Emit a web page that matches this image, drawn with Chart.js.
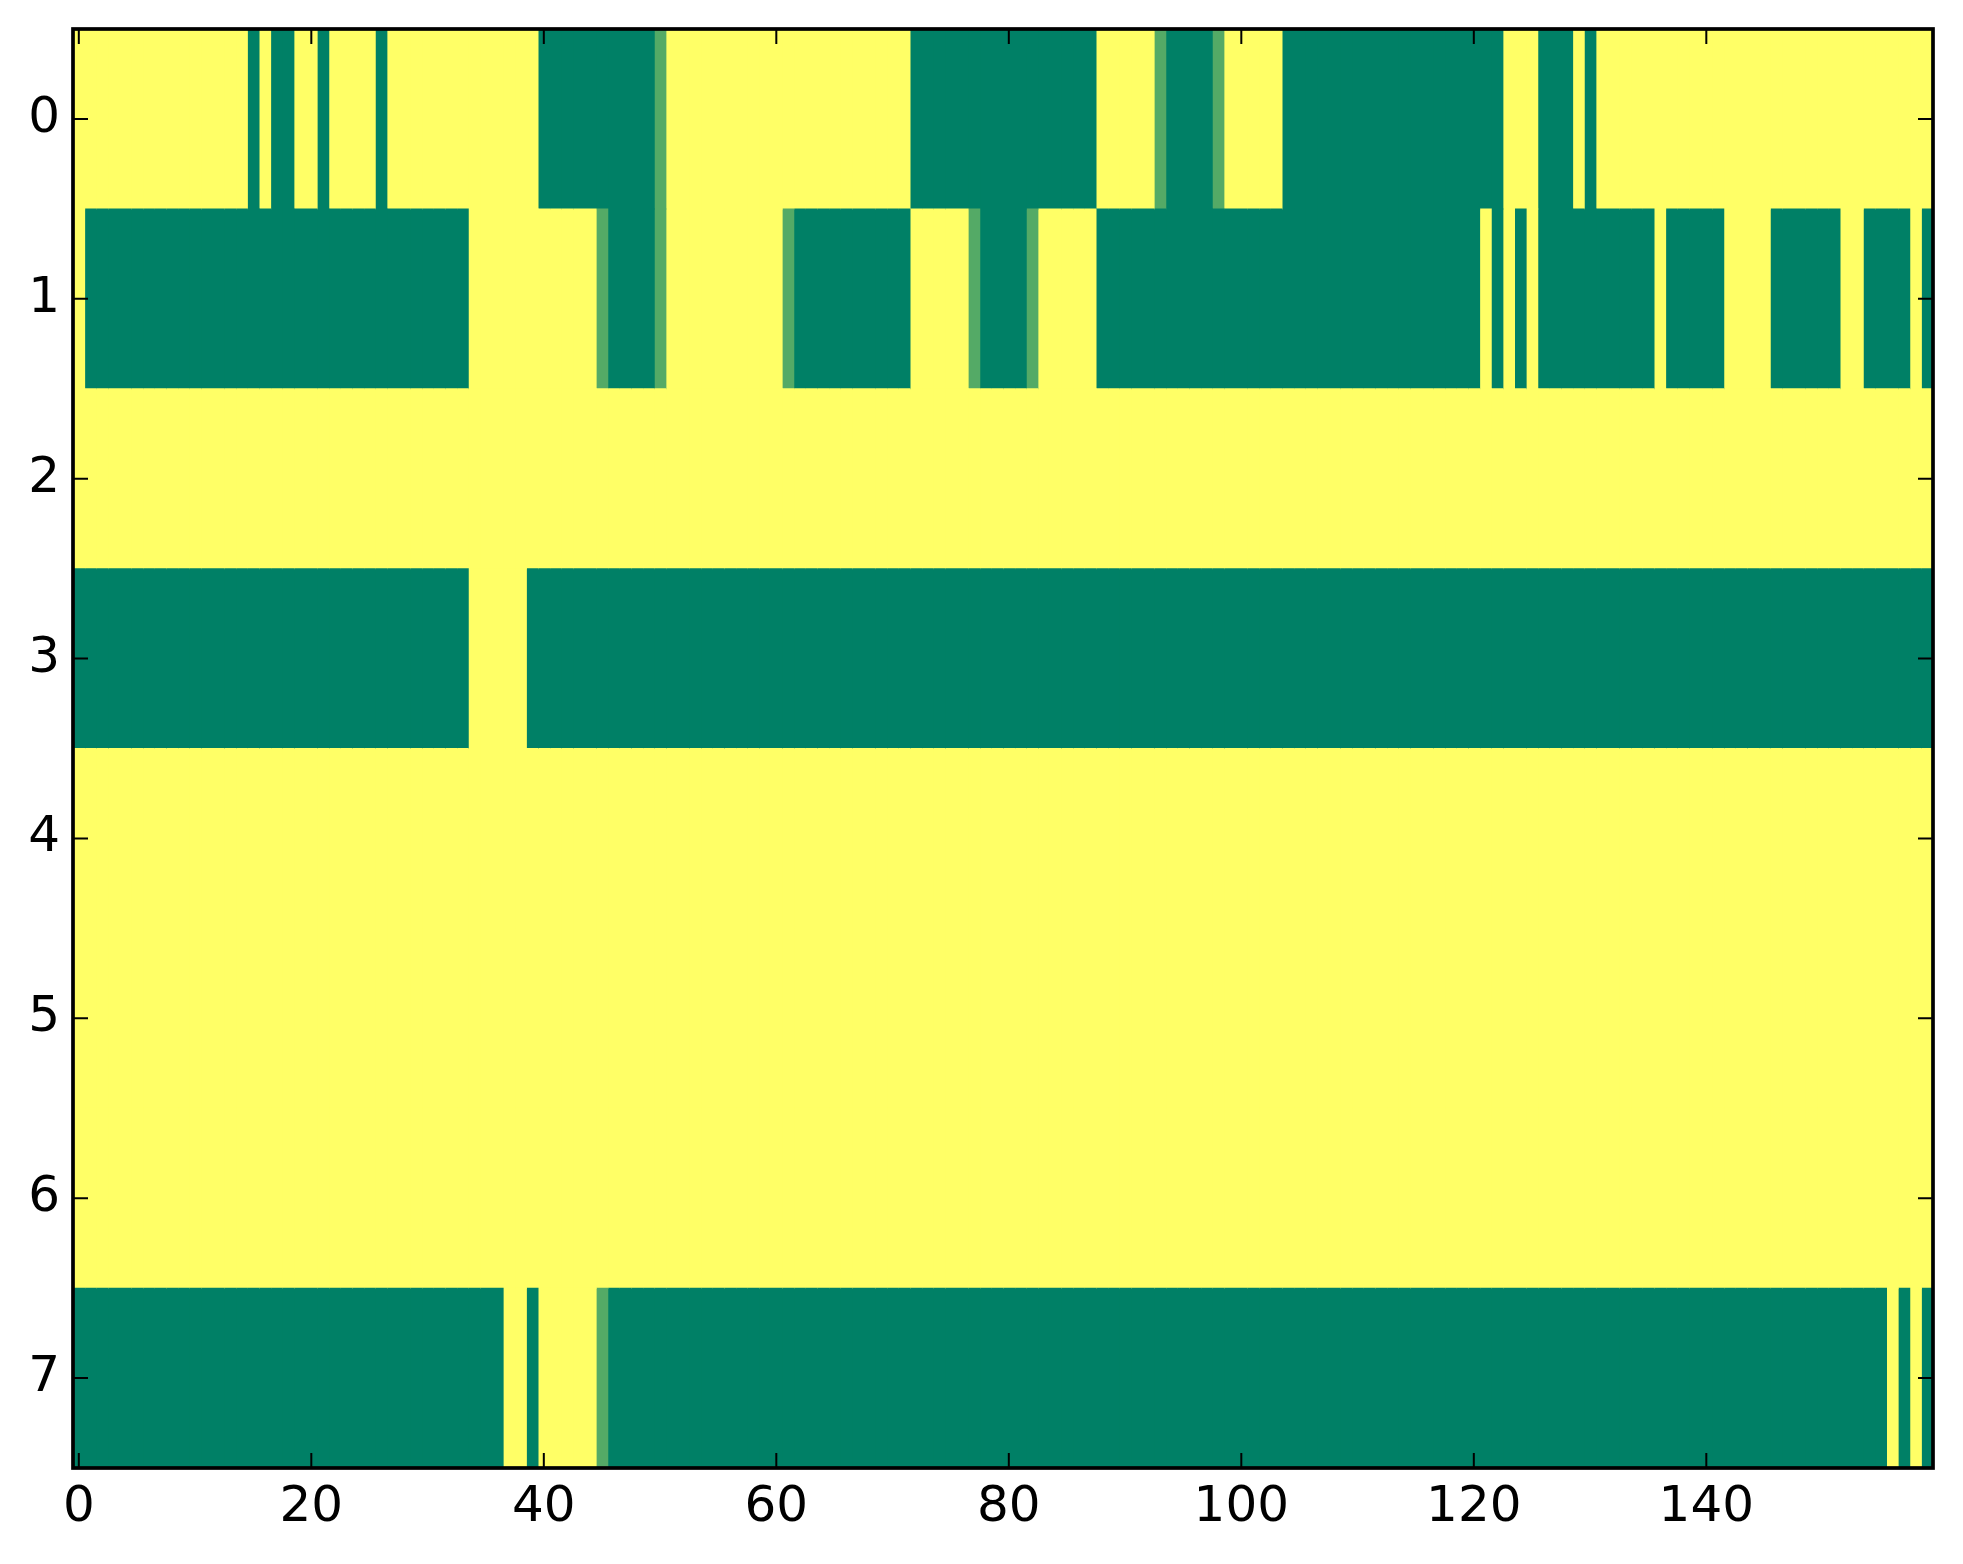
<!DOCTYPE html>
<html>
<head>
<meta charset="utf-8">
<script src="https://cdn.jsdelivr.net/npm/chart.js@4.4.1/dist/chart.umd.min.js"></script>
<style>
  html, body { margin: 0; padding: 0; background: #ffffff; }
  canvas { display: block; }
</style>
</head>
<body>
<canvas id="c" width="1963" height="1564"></canvas>
<script>
// Row labels (top to bottom) and x tick labels
const yLabels = ['0', '1', '2', '3', '4', '5', '6', '7'];
const xTickValues = [0, 20, 40, 60, 80, 100, 120, 140];

// Cell values per row, 160 columns each (1 = yellow, 0 = green, 0.33 = intermediate)
const row0 = [
  1,1,1,1,1,1,1,1,1,1,  1,1,1,1,1,0,1,0,0,1,  1,0,1,1,1,1,0,1,1,1,  1,1,1,1,1,1,1,1,1,1,
  0,0,0,0,0,0,0,0,0,0,  0.33,1,1,1,1,1,1,1,1,1,  1,1,1,1,1,1,1,1,1,1,  1,1,0,0,0,0,0,0,0,0,
  0,0,0,0,0,0,0,0,1,1,  1,1,1,0.33,0,0,0,0,0.33,1,  1,1,1,1,0,0,0,0,0,0,  0,0,0,0,0,0,0,0,0,0,
  0,0,0,1,1,1,0,0,0,1,  0,1,1,1,1,1,1,1,1,1,  1,1,1,1,1,1,1,1,1,1,  1,1,1,1,1,1,1,1,1,1
];
const row1 = [
  1,0,0,0,0,0,0,0,0,0,  0,0,0,0,0,0,0,0,0,0,  0,0,0,0,0,0,0,0,0,0,  0,0,0,0,1,1,1,1,1,1,
  1,1,1,1,1,0.33,0,0,0,0,  0.33,1,1,1,1,1,1,1,1,1,  1,0.33,0,0,0,0,0,0,0,0,  0,0,1,1,1,1,1,0.33,0,0,
  0,0,0.33,1,1,1,1,1,0,0,  0,0,0,0,0,0,0,0,0,0,  0,0,0,0,0,0,0,0,0,0,  0,0,0,0,0,0,0,0,0,0,
  0,1,0,1,0,1,0,0,0,0,  0,0,0,0,0,0,1,0,0,0,  0,0,1,1,1,1,0,0,0,0,  0,0,1,1,0,0,0,0,1,0
];
const row2 = [
  1,1,1,1,1,1,1,1,1,1,  1,1,1,1,1,1,1,1,1,1,  1,1,1,1,1,1,1,1,1,1,  1,1,1,1,1,1,1,1,1,1,
  1,1,1,1,1,1,1,1,1,1,  1,1,1,1,1,1,1,1,1,1,  1,1,1,1,1,1,1,1,1,1,  1,1,1,1,1,1,1,1,1,1,
  1,1,1,1,1,1,1,1,1,1,  1,1,1,1,1,1,1,1,1,1,  1,1,1,1,1,1,1,1,1,1,  1,1,1,1,1,1,1,1,1,1,
  1,1,1,1,1,1,1,1,1,1,  1,1,1,1,1,1,1,1,1,1,  1,1,1,1,1,1,1,1,1,1,  1,1,1,1,1,1,1,1,1,1
];
const row3 = [
  0,0,0,0,0,0,0,0,0,0,  0,0,0,0,0,0,0,0,0,0,  0,0,0,0,0,0,0,0,0,0,  0,0,0,0,1,1,1,1,1,0,
  0,0,0,0,0,0,0,0,0,0,  0,0,0,0,0,0,0,0,0,0,  0,0,0,0,0,0,0,0,0,0,  0,0,0,0,0,0,0,0,0,0,
  0,0,0,0,0,0,0,0,0,0,  0,0,0,0,0,0,0,0,0,0,  0,0,0,0,0,0,0,0,0,0,  0,0,0,0,0,0,0,0,0,0,
  0,0,0,0,0,0,0,0,0,0,  0,0,0,0,0,0,0,0,0,0,  0,0,0,0,0,0,0,0,0,0,  0,0,0,0,0,0,0,0,0,0
];
const row4 = [
  1,1,1,1,1,1,1,1,1,1,  1,1,1,1,1,1,1,1,1,1,  1,1,1,1,1,1,1,1,1,1,  1,1,1,1,1,1,1,1,1,1,
  1,1,1,1,1,1,1,1,1,1,  1,1,1,1,1,1,1,1,1,1,  1,1,1,1,1,1,1,1,1,1,  1,1,1,1,1,1,1,1,1,1,
  1,1,1,1,1,1,1,1,1,1,  1,1,1,1,1,1,1,1,1,1,  1,1,1,1,1,1,1,1,1,1,  1,1,1,1,1,1,1,1,1,1,
  1,1,1,1,1,1,1,1,1,1,  1,1,1,1,1,1,1,1,1,1,  1,1,1,1,1,1,1,1,1,1,  1,1,1,1,1,1,1,1,1,1
];
const row5 = [
  1,1,1,1,1,1,1,1,1,1,  1,1,1,1,1,1,1,1,1,1,  1,1,1,1,1,1,1,1,1,1,  1,1,1,1,1,1,1,1,1,1,
  1,1,1,1,1,1,1,1,1,1,  1,1,1,1,1,1,1,1,1,1,  1,1,1,1,1,1,1,1,1,1,  1,1,1,1,1,1,1,1,1,1,
  1,1,1,1,1,1,1,1,1,1,  1,1,1,1,1,1,1,1,1,1,  1,1,1,1,1,1,1,1,1,1,  1,1,1,1,1,1,1,1,1,1,
  1,1,1,1,1,1,1,1,1,1,  1,1,1,1,1,1,1,1,1,1,  1,1,1,1,1,1,1,1,1,1,  1,1,1,1,1,1,1,1,1,1
];
const row6 = [
  1,1,1,1,1,1,1,1,1,1,  1,1,1,1,1,1,1,1,1,1,  1,1,1,1,1,1,1,1,1,1,  1,1,1,1,1,1,1,1,1,1,
  1,1,1,1,1,1,1,1,1,1,  1,1,1,1,1,1,1,1,1,1,  1,1,1,1,1,1,1,1,1,1,  1,1,1,1,1,1,1,1,1,1,
  1,1,1,1,1,1,1,1,1,1,  1,1,1,1,1,1,1,1,1,1,  1,1,1,1,1,1,1,1,1,1,  1,1,1,1,1,1,1,1,1,1,
  1,1,1,1,1,1,1,1,1,1,  1,1,1,1,1,1,1,1,1,1,  1,1,1,1,1,1,1,1,1,1,  1,1,1,1,1,1,1,1,1,1
];
const row7 = [
  0,0,0,0,0,0,0,0,0,0,  0,0,0,0,0,0,0,0,0,0,  0,0,0,0,0,0,0,0,0,0,  0,0,0,0,0,0,0,1,1,0,
  1,1,1,1,1,0.33,0,0,0,0,  0,0,0,0,0,0,0,0,0,0,  0,0,0,0,0,0,0,0,0,0,  0,0,0,0,0,0,0,0,0,0,
  0,0,0,0,0,0,0,0,0,0,  0,0,0,0,0,0,0,0,0,0,  0,0,0,0,0,0,0,0,0,0,  0,0,0,0,0,0,0,0,0,0,
  0,0,0,0,0,0,0,0,0,0,  0,0,0,0,0,0,0,0,0,0,  0,0,0,0,0,0,0,0,0,0,  0,0,0,0,0,0,1,0,1,0
];
const rows = [row0, row1, row2, row3, row4, row5, row6, row7];

// matplotlib "summer" colormap
function summer(v) {
  const r = Math.round(255 * v);
  const g = Math.round(255 * (0.5 + 0.5 * v));
  const b = 102;
  return 'rgb(' + r + ',' + g + ',' + b + ')';
}

const nCols = row0.length;
const datasets = [];
for (let c = 0; c < nCols; c++) {
  datasets.push({
    data: rows.map(() => [c - 0.5, c + 0.5]),
    backgroundColor: rows.map(row => summer(row[c])),
  });
}

const font = { family: 'DejaVu Sans', size: 50 };

const frameTicks = {
  id: 'frameTicks',
  afterDraw(chart) {
    const ctx = chart.ctx;
    const a = chart.chartArea;
    const xs = chart.scales.x, ys = chart.scales.y;
    const L = 15;
    ctx.save();
    ctx.strokeStyle = '#000';
    ctx.lineWidth = 2;
    ctx.beginPath();
    xTickValues.forEach(v => {
      const px = xs.getPixelForValue(v);
      ctx.moveTo(px, a.bottom); ctx.lineTo(px, a.bottom - L);
      ctx.moveTo(px, a.top); ctx.lineTo(px, a.top + L);
    });
    yLabels.forEach((lab, i) => {
      const py = ys.getPixelForValue(i);
      ctx.moveTo(a.left, py); ctx.lineTo(a.left + L, py);
      ctx.moveTo(a.right, py); ctx.lineTo(a.right - L, py);
    });
    ctx.stroke();
    ctx.lineWidth = 3.7;
    ctx.strokeRect(a.left, a.top, a.right - a.left, a.bottom - a.top);
    ctx.restore();
  }
};

new Chart(document.getElementById('c'), {
  type: 'bar',
  data: { labels: yLabels, datasets: datasets },
  plugins: [frameTicks],
  options: {
    indexAxis: 'y',
    responsive: false,
    animation: false,
    devicePixelRatio: 1,
    layout: { padding: { top: 29, right: 30, bottom: 0, left: 0 } },
    datasets: {
      bar: {
        grouped: false,
        barPercentage: 1,
        categoryPercentage: 1,
        borderWidth: 0,
        inflateAmount: 0.5
      }
    },
    plugins: { legend: { display: false }, tooltip: { enabled: false } },
    scales: {
      x: {
        type: 'linear',
        min: -0.5,
        max: 159.5,
        afterBuildTicks: s => { s.ticks = xTickValues.map(v => ({ value: v })); },
        afterFit: s => { s.height = 96; s.paddingLeft = 0; s.paddingRight = 0; },
        ticks: {
          font: font, color: '#000', padding: 10,
          autoSkip: false, maxRotation: 0,
          callback: v => String(v)
        },
        grid: { display: false, drawTicks: false },
        border: { display: false }
      },
      y: {
        type: 'category',
        labels: yLabels,
        offset: true,
        afterFit: s => { s.width = 73; s.paddingTop = 0; s.paddingBottom = 0; },
        ticks: { font: font, color: '#000', padding: 13 },
        grid: { display: false, drawTicks: false, offset: true },
        border: { display: false }
      }
    }
  }
});
</script>
</body>
</html>
